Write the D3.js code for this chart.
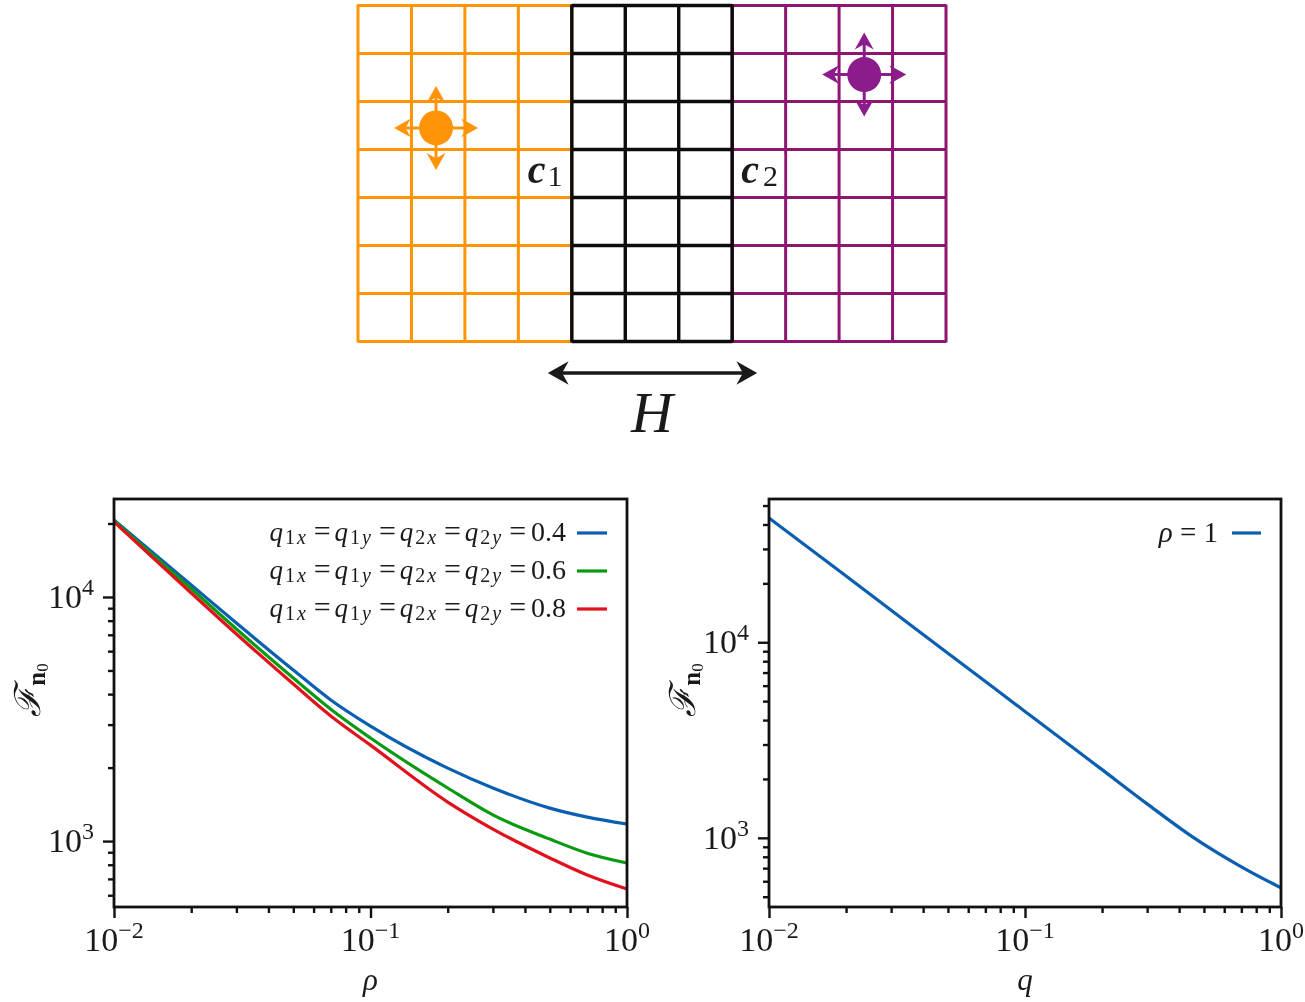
<!DOCTYPE html>
<html>
<head>
<meta charset="utf-8">
<style>
  html, body { margin: 0; padding: 0; background: #fff; }
  svg { display: block; filter: blur(0.55px); }
  text { font-family: "Liberation Serif", "DejaVu Serif", serif; fill: #1a1a1a; }
  .axis path, .axis line { stroke: #111; stroke-width: 2.4; }
  .frame { fill: none; stroke: #111; stroke-width: 2.8; }
</style>
<script src="https://cdn.jsdelivr.net/npm/d3@7"></script>
</head>
<body>
<main></main>
<script>
!(function () {
  'use strict';

  // data: left panel
  const rhoValues = [0.01, 0.02, 0.03, 0.05, 0.07, 0.1, 0.2, 0.3, 0.5, 0.7, 1];
  const f04 = [20700, 11200, 7820, 5020, 3785, 2958, 1990, 1650, 1365, 1254, 1175];
  const f06 = [20480, 10800, 7395, 4655, 3470, 2644, 1650, 1280, 1019, 892, 813];
  const f08 = [20300, 10380, 7050, 4400, 3255, 2472, 1445, 1120, 853, 726, 636];
  const leftLabels = ['0.4', '0.6', '0.8'];

  // data: right panel
  const qValues = [0.01, 0.02, 0.03, 0.05, 0.1, 0.2, 0.3, 0.445, 0.7, 1];
  const fRho1 = [43200, 21800, 14590, 8780, 4430, 2232, 1492, 1024, 711, 555];

  // data: x ticks
  const xMajor = [0.01, 0.1, 1];
  const xMajorExp = ['\u22122', '\u22121', '0'];

  // data: lattice (cells)
  const orangeCols = 4, blackCols = 3, purpleCols = 4, rows = 7;
  const orangeDot = [1.46, 2.55];
  const purpleDot = [9.47, 1.44];

  const colors = {
    orange: '#ff9408', purple: '#8e1570', dotPurple: '#8c1c8c',
    blue: '#0a5fb0', green: '#0a9a12', red: '#e0121c'
  };

  const svg = d3.select('main').append('svg').attr('width', 1305).attr('height', 1002);

  function minorTicks(from, to) {
    let out = [];
    for (let e = from; e < to; e++) {
      for (let m = 2; m < 10; m++) out.push(m * Math.pow(10, e));
    }
    return out;
  }

  // text helper: [text, italic/bold, size, dy]
  function rich(sel, parts) {
    parts.forEach(function (p) {
      sel.append('tspan')
        .attr('font-size', p.size)
        .attr('font-style', p.italic ? 'italic' : 'normal')
        .attr('font-weight', p.bold ? 'bold' : 'normal')
        .attr('dy', p.dy || 0)
        .attr('dx', p.dx || 0)
        .text(p.t);
    });
  }

  function powerLabel(sel, exp) {
    sel.text(null);
    rich(sel, [{ t: '10', size: 34 }, { t: exp, size: 24, dy: -13 }]);
  }

  function drawLattice() {
    const total = orangeCols + blackCols + purpleCols;
    const x = d3.scaleLinear().domain([0, total]).range([358, 946]);
    const y = d3.scaleLinear().domain([0, rows]).range([5.5, 341.5]);
    const g = svg.append('g').attr('class', 'lattice');
    const blockList = [
      { from: 0, to: orangeCols, color: colors.orange },
      { from: orangeCols + blackCols, to: total, color: colors.purple },
      { from: orangeCols, to: orangeCols + blackCols, color: '#0c0c0c' }
    ];
    blockList.forEach(function (b) {
      const sw = b.color === '#0c0c0c' ? 3.4 : 3;
      g.selectAll(null).data(d3.range(b.from, b.to + 1)).enter().append('line')
        .attr('x1', x).attr('x2', x).attr('y1', y(0) - 1).attr('y2', y(rows) + 1)
        .attr('stroke', b.color).attr('stroke-width', sw);
      g.selectAll(null).data(d3.range(0, rows + 1)).enter().append('line')
        .attr('x1', x(b.from)).attr('x2', x(b.to))
        .attr('y1', y).attr('y2', y)
        .attr('stroke', b.color).attr('stroke-width', sw);
    });

    // blank patches behind the c labels
    g.append('rect').attr('x', x(orangeCols) - 47).attr('y', y(3) + 4).attr('width', 44).attr('height', 40).attr('fill', '#fff');
    g.append('rect').attr('x', x(orangeCols + blackCols) + 4).attr('y', y(3) + 4).attr('width', 48).attr('height', 40).attr('fill', '#fff');

    drawDot(x(orangeDot[0]), y(orangeDot[1]), colors.orange, colors.orange);
    drawDot(x(purpleDot[0]), y(purpleDot[1]), colors.dotPurple, colors.dotPurple);

    let c1 = svg.append('text').attr('x', x(orangeCols) - 44).attr('y', 183);
    rich(c1, [{ t: 'c', size: 40, italic: true, bold: true }, { t: '1', size: 30, dy: 3, dx: 2 }]);
    let c2 = svg.append('text').attr('x', x(orangeCols + blackCols) + 9).attr('y', 183);
    rich(c2, [{ t: 'c', size: 40, italic: true, bold: true }, { t: '2', size: 30, dy: 3, dx: 4 }]);

    // H span
    const midY = 373;
    const left = x(orangeCols) - 24, right = x(orangeCols + blackCols) + 25;
    svg.append('line').attr('x1', left + 4).attr('x2', right - 4).attr('y1', midY).attr('y2', midY)
      .attr('stroke', '#1a1a1a').attr('stroke-width', 3.4);
    head(left, midY, 180, '#1a1a1a', 1.3);
    head(right, midY, 0, '#1a1a1a', 1.3);
    svg.append('text').attr('x', 652).attr('y', 432).attr('text-anchor', 'middle')
      .attr('font-size', 58).attr('font-style', 'italic').text('H');
  }

  // barbed arrow head pointing along angle, tip at (px, py)
  function head(px, py, angle, color, k) {
    svg.append('path')
      .attr('d', 'M0,0 L-16,-9 L-11,0 L-16,9 Z')
      .attr('transform', 'translate(' + px + ',' + py + ') rotate(' + angle + ') scale(' + (k || 0.8) + ')')
      .attr('fill', color);
  }

  function drawDot(cx, cy, color, arrow) {
    const reach = 42;
    [[0, -1, -90], [0, 1, 90], [-1, 0, 180], [1, 0, 0]].forEach(function (d) {
      svg.append('line')
        .attr('x1', cx).attr('y1', cy)
        .attr('x2', cx + d[0] * (reach - 6)).attr('y2', cy + d[1] * (reach - 6))
        .attr('stroke', arrow).attr('stroke-width', 3);
      head(cx + d[0] * reach, cy + d[1] * reach, d[2], arrow, 1.05);
    });
    svg.append('ellipse').attr('cx', cx).attr('cy', cy).attr('rx', 17).attr('ry', 17.5).attr('fill', color);
  }

  function drawPanel(cfg) {
    const x = d3.scaleLog().domain([0.01, 1]).range([cfg.left, cfg.right]);
    const y = d3.scaleLog().domain(cfg.yDomain).range([907, 499]);
    const g = svg.append('g');

    const gx = g.append('g').attr('class', 'axis').attr('transform', 'translate(0,907)');
    gx.call(d3.axisBottom(x).tickValues(xMajor).tickSize(11).tickPadding(7).tickFormat(''));
    gx.select('.domain').remove();
    const gxm = g.append('g').attr('class', 'axis').attr('transform', 'translate(0,907)');
    gxm.call(d3.axisBottom(x).tickValues(minorTicks(-2, 0)).tickSize(6).tickFormat(''));
    gxm.select('.domain').remove();

    g.selectAll(null).data(xMajor).enter().append('text')
      .attr('x', function (d) { return x(d); })
      .attr('y', 951)
      .attr('text-anchor', 'middle')
      .each(function (d, i) { powerLabel(d3.select(this), xMajorExp[i]); });

    const gy = g.append('g').attr('class', 'axis').attr('transform', 'translate(' + cfg.left + ',0)');
    gy.call(d3.axisLeft(y).tickValues([1000, 10000]).tickSize(11).tickFormat(''));
    gy.select('.domain').remove();
    const gym = g.append('g').attr('class', 'axis').attr('transform', 'translate(' + cfg.left + ',0)');
    gym.call(d3.axisLeft(y)
      .tickValues(minorTicks(2, 5).filter(function (v) { return v >= cfg.yDomain[0] && v <= cfg.yDomain[1]; }))
      .tickSize(6).tickFormat(''));
    gym.select('.domain').remove();

    g.selectAll(null).data([1000, 10000]).enter().append('text')
      .attr('x', cfg.left - 66)
      .attr('y', function (d) { return y(d) + 11; })
      .each(function (d) { powerLabel(d3.select(this), String(Math.log10(d))); });

    const line = d3.line()
      .curve(d3.curveMonotoneX)
      .x(function (d) { return x(d[0]); })
      .y(function (d) { return y(d[1]); });

    cfg.series.forEach(function (s) {
      g.append('path')
        .attr('d', line(d3.zip(cfg.xs, s.values)))
        .attr('fill', 'none').attr('stroke', s.color).attr('stroke-width', 3.2);
    });

    g.append('rect').attr('class', 'frame')
      .attr('x', cfg.left).attr('y', 499)
      .attr('width', cfg.right - cfg.left).attr('height', 408);

    // axis titles
    g.append('text').attr('x', (cfg.left + cfg.right) / 2).attr('y', 990)
      .attr('text-anchor', 'middle').attr('font-size', 31).attr('font-style', 'italic').text(cfg.xLabel);
    const ty = g.append('text')
      .attr('transform', 'translate(' + (cfg.left - 74) + ',690) rotate(-90)')
      .attr('text-anchor', 'middle');
    rich(ty, [
      { t: '\u2131', size: 36, italic: true },
      { t: 'n', size: 25, bold: true, dy: 5, dx: 1 },
      { t: '0', size: 17, dy: 3 }
    ]);
  }

  function legendEq(x, y, value) {
    const t = svg.append('text').attr('x', x).attr('y', y).attr('text-anchor', 'end');
    const pieces = [['1', 'x'], ['1', 'y'], ['2', 'x'], ['2', 'y']];
    let parts = [];
    pieces.forEach(function (s) {
      parts.push({ t: 'q', size: 27, italic: true, dy: 0 });
      parts.push({ t: s[0], size: 20, dy: 3, dx: 2 });
      parts.push({ t: s[1], size: 20, italic: true, dy: 0, dx: 2 });
      parts.push({ t: '=', size: 30, dy: -3, dx: 8 });
      parts.push({ t: '\u200a', size: 10, dx: 3 });
    });
    parts.push({ t: value, size: 28, dx: 1 });
    rich(t, parts);
  }

  function drawLegends() {
    const colorList = [colors.blue, colors.green, colors.red];
    leftLabels.forEach(function (label, i) {
      const ly = 533 + i * 38;
      legendEq(566, ly + 8, label);
      svg.append('line').attr('x1', 577).attr('x2', 607).attr('y1', ly).attr('y2', ly)
        .attr('stroke', colorList[i]).attr('stroke-width', 3.2);
    });
    const t = svg.append('text').attr('x', 1218).attr('y', 542).attr('text-anchor', 'end');
    rich(t, [{ t: '\u03C1', size: 29, italic: true }, { t: ' = 1', size: 29 }]);
    svg.append('line').attr('x1', 1232).attr('x2', 1261).attr('y1', 533).attr('y2', 533)
      .attr('stroke', colors.blue).attr('stroke-width', 3.2);
  }

  drawLattice();
  drawPanel({
    left: 114, right: 627, yDomain: [537, 25200], xs: rhoValues, xLabel: '\u03C1',
    series: [
      { values: f04, color: colors.blue },
      { values: f06, color: colors.green },
      { values: f08, color: colors.red }
    ]
  });
  drawPanel({
    left: 769, right: 1281, yDomain: [443, 54000], xs: qValues, xLabel: 'q',
    series: [{ values: fRho1, color: colors.blue }]
  });
  drawLegends();
}());
</script>
</body>
</html>
